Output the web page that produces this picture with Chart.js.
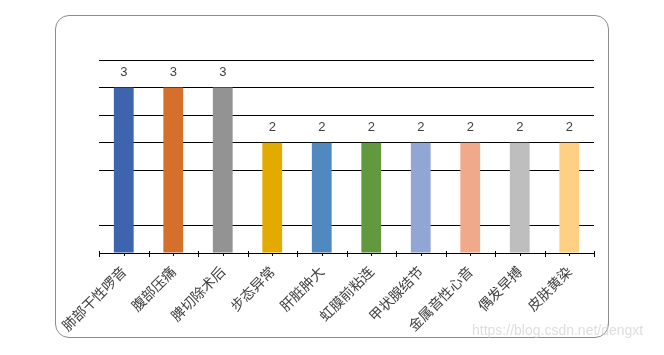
<!DOCTYPE html>
<html>
<head>
<meta charset="utf-8">
<script src="https://cdn.jsdelivr.net/npm/chart.js@4"></script>
<style>
  html, body { margin: 0; padding: 0; background: #fff; }
  #wrap { position: relative; width: 664px; height: 355px; }
  #frame {
    position: absolute; left: 55px; top: 15px; width: 554px; height: 323px;
    border: 1.3px solid #8c8c8c; border-radius: 14px; box-sizing: border-box;
  }
  #mark {
    position: absolute; left: 472px; top: 322px;
    font: 14px "Liberation Sans", sans-serif; color: rgba(200,200,200,0.6);
  }
  canvas { position: absolute; left: 0; top: 0; }
</style>
</head>
<body>
<div id="wrap">
  <div id="frame"></div>
  <canvas id="barChart" width="664" height="355"></canvas>
  <div id="mark">https://blog.csdn.net/dengxt</div>
</div>
<script>
// 数据
const labels = ['肺部干性啰音', '腹部压痛', '脾切除术后', '步态异常', '肝脏肿大',
                '虹膜前粘连', '甲状腺结节', '金属音性心音', '偶发早搏', '皮肤黄染'];
const counts = [3, 3, 3, 2, 2, 2, 2, 2, 2, 2];
const barColors = ['#3d64ad', '#d56f2c', '#939393', '#e3aa00', '#4f89bf',
                   '#62993e', '#91a6d4', '#f0a98a', '#bebebe', '#fed083'];

// 柱顶数值
const valueLabels = {
  id: 'valueLabels',
  afterDatasetsDraw(chart) {
    const ctx = chart.ctx;
    const meta = chart.getDatasetMeta(0);
    ctx.save();
    ctx.font = '13px "Liberation Sans", Arial, sans-serif';
    ctx.fillStyle = '#404040';
    ctx.textAlign = 'center';
    ctx.textBaseline = 'middle';
    meta.data.forEach((bar, i) => {
      ctx.fillText(String(counts[i]), bar.x, bar.y - 15);
    });
    ctx.restore();
  }
};

// x 轴刻度线（分界处和中心处）
const axisTicks = {
  id: 'axisTicks',
  afterDraw(chart) {
    const ctx = chart.ctx;
    const x = chart.scales.x;
    const y0 = chart.chartArea.bottom;
    ctx.save();
    ctx.strokeStyle = '#000';
    ctx.lineWidth = 1;
    ctx.beginPath();
    for (let i = 0; i <= labels.length; i++) {
      const px = Math.round(x.getPixelForValue(i - 0.5)) + 0.5;
      ctx.moveTo(px, y0 - 2);
      ctx.lineTo(px, y0 + 4);
    }
    for (let i = 0; i < labels.length; i++) {
      const px = Math.round(x.getPixelForValue(i)) + 0.5;
      ctx.moveTo(px, y0);
      ctx.lineTo(px, y0 + 3);
    }
    ctx.stroke();
    ctx.restore();
  }
};

new Chart(document.getElementById('barChart'), {
  type: 'bar',
  data: {
    labels: labels,
    datasets: [{
      data: counts,
      backgroundColor: barColors,
      borderWidth: 0,
      barPercentage: 0.4,
      categoryPercentage: 1
    }]
  },
  options: {
    responsive: false,
    animation: false,
    layout: { padding: { left: 99, right: 70, top: 60, bottom: 0 } },
    plugins: { legend: { display: false }, tooltip: { enabled: false } },
    scales: {
      x: {
        grid: { display: false },
        border: { display: true, color: '#000', width: 1 },
        ticks: {
          color: '#404040',
          minRotation: 45,
          maxRotation: 45,
          padding: 2,
          font: { family: '"Noto Sans CJK SC", sans-serif', size: 14 }
        },
        afterFit(scale) { scale.height = 102; }
      },
      y: {
        min: 0,
        max: 3.5,
        ticks: { display: false, stepSize: 0.5 },
        border: { display: false },
        grid: {
          drawTicks: false,
          lineWidth: 1,
          color: c => (c.tick.value === 1 || c.tick.value === 0) ? 'rgba(0,0,0,0)' : '#000'
        },
        afterFit(scale) { scale.width = 0; }
      }
    }
  },
  plugins: [valueLabels, axisTicks]
});
</script>
</body>
</html>
